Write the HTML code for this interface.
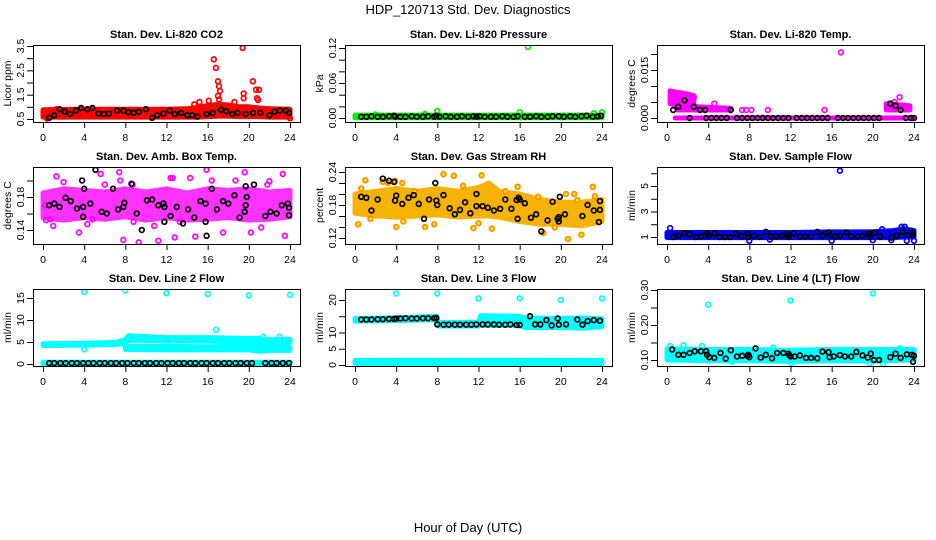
<!DOCTYPE html>
<html><head><meta charset="utf-8">
<style>
html,body{margin:0;padding:0;background:#fff;}
svg{display:block;font-family:"Liberation Sans",Arial,sans-serif;}
</style></head>
<body>
<svg id="chart" width="936" height="540" viewBox="0 0 936 540" xmlns="http://www.w3.org/2000/svg">
<rect width="936" height="540" fill="#fff"/>
<text x="468" y="14" font-size="13" text-anchor="middle">HDP_120713  Std. Dev. Diagnostics</text>
<text x="468" y="532" font-size="13" text-anchor="middle">Hour of Day (UTC)</text>
</svg>
<script>
// ---- shared x ticks ----
const hourTicks = [0,4,8,12,16,20,24];

// ---- P1 CO2 ----
const co2BandX = [0,4,8,12,14,15,16,17,18,19,20,21,22,24];
const co2BandLo = [0.58,0.58,0.58,0.58,0.58,0.58,0.6,0.62,0.62,0.6,0.6,0.6,0.58,0.58];
const co2BandHi = [0.88,0.9,0.9,0.9,0.92,0.98,1.05,1.1,1.08,1.0,1.0,0.95,0.92,0.9];
const co2RedX = [16.6,16.8,17.0,17.1,17.2,17.0,17.1,15.2,16.1,19.4,19.5,19.5,20.4,20.7,20.8,20.9,21.0,14.7,24,1.3,0.4,18.6];
const co2RedY = [2.95,2.6,2.05,1.85,1.65,1.45,1.3,1.2,1.25,3.42,1.55,1.35,2.05,1.7,1.35,1.28,1.7,1.1,0.53,0.9,0.52,1.2];
const co2BlkX = [0.6,1.1,1.6,2.1,2.6,3.2,3.7,4.3,4.8,5.4,5.9,6.4,7.2,7.8,8.3,8.8,9.3,10.0,10.6,11.1,11.7,12.3,12.8,13.4,14.0,14.5,15.0,15.9,16.5,17.3,17.8,18.4,18.9,19.7,20.4,21.1,22.0,22.5,23.0,23.6,23.9];
const co2BlkY = [0.55,0.65,0.9,0.8,0.7,0.85,0.95,0.9,0.95,0.72,0.7,0.72,0.85,0.85,0.78,0.75,0.8,0.9,0.55,0.65,0.72,0.85,0.7,0.75,0.65,0.65,0.6,0.7,0.75,0.88,0.82,0.7,0.75,0.7,0.75,0.75,0.65,0.8,0.85,0.85,0.75];

// ---- P2 Pressure ----
const presBandX = [0,12,24];
const presBandLo = [0.0005,0.0005,0.0005];
const presBandHi = [0.005,0.005,0.005];
const presGrnX = [16.8,8.0,16.0,24,23.2,6.8,2.0];
const presGrnY = [0.122,0.012,0.010,0.010,0.008,0.007,0.006];
const presBlkX = [0.6,1.1,1.6,2.2,2.7,3.3,3.8,3.9,4.4,4.9,5.5,6.0,6.6,7.1,7.7,7.9,8.2,8.8,9.3,9.9,10.4,11.0,11.5,11.8,12.1,12.6,13.2,13.7,14.3,14.8,15.4,15.8,16.5,17.0,17.6,18.1,18.7,19.2,19.8,20.3,20.9,21.4,22.0,22.5,23.1,23.6,23.9];
const presBlkY = [0.002,0.002,0.003,0.002,0.002,0.003,0.004,0.002,0.002,0.002,0.003,0.002,0.002,0.003,0.002,0.004,0.002,0.003,0.002,0.002,0.003,0.002,0.003,0.002,0.003,0.002,0.002,0.002,0.003,0.002,0.002,0.003,0.002,0.002,0.003,0.002,0.002,0.003,0.003,0.002,0.003,0.002,0.003,0.004,0.002,0.003,0.004];

// ---- P3 Li-820 Temp ----
const tmpBaseX = [0.8,24];
const tmpBaseLo = [0,0];
const tmpBaseHi = [0,0];
const tmpBand1X = [0.3,1.0,2.0,2.6];
const tmpBand1Lo = [0.0045,0.004,0.004,0.0045];
const tmpBand1Hi = [0.0085,0.008,0.0075,0.007];
const tmpBand2X = [1.0,3.0,6.2];
const tmpBand2Lo = [0.0025,0.0025,0.0025];
const tmpBand2Hi = [0.004,0.0035,0.003];
const tmpBand3X = [21.3,22.5,23.6];
const tmpBand3Lo = [0.0025,0.0025,0.0025];
const tmpBand3Hi = [0.0045,0.0042,0.0038];
const tmpMagX = [16.9,22.6,22.1,4.6,15.3,9.8,7.3,7.7,8.2,2.6];
const tmpMagY = [0.0205,0.0065,0.005,0.0045,0.0025,0.0025,0.0025,0.0025,0.0025,0.0065];
const tmpBlkX = [0.6,1.1,1.7,2.6,3.2,3.7,6.2,21.7,22.2,22.7,2.2,3.8,4.3,4.8,5.3,5.8,6.8,7.3,7.8,8.3,8.8,9.3,9.8,10.3,10.8,11.3,11.8,12.6,13.1,13.6,14.1,14.6,15.1,15.6,16.6,17.1,17.6,18.1,18.6,19.1,19.6,20.1,20.6,23.2,23.7,24];
const tmpBlkY = [0.0025,0.0035,0.0055,0.0035,0.0025,0.0025,0.0025,0.0045,0.0038,0.0025,0,0,0,0,0,0,0,0,0,0,0,0,0,0,0,0,0,0,0,0,0,0,0,0,0,0,0,0,0,0,0,0,0,0,0,0];

// ---- P4 Amb Box Temp ----
const boxBandX = [0,2,4,6,8,10,12,14,16,18,20,22,24];
const boxBandLo = [0.155,0.152,0.155,0.153,0.156,0.152,0.155,0.152,0.153,0.155,0.152,0.153,0.156];
const boxBandHi = [0.185,0.19,0.188,0.186,0.19,0.186,0.19,0.185,0.19,0.188,0.19,0.186,0.188];
const boxMagX = [1.3,5.6,7.4,7.5,8.7,12.4,12.6,14.3,15.9,19.6,23.3,22.0,7.8,9.3,11.2,12.8,14.8,23.5,3.5,0.3,0.7,4.8,8.8,17.5,20.2,21.2,10.8,18.7,2.0,16.4,0.2,6.0,13.3,21.8,1.0,4.3];
const boxMagY = [0.205,0.208,0.21,0.2,0.195,0.203,0.203,0.203,0.213,0.21,0.208,0.199,0.128,0.125,0.127,0.131,0.132,0.133,0.137,0.152,0.153,0.153,0.15,0.137,0.137,0.143,0.145,0.2,0.198,0.2,0.17,0.195,0.15,0.195,0.145,0.147];
const boxBlkX = [0.6,1.1,1.6,2.2,2.7,3.3,3.8,3.9,3.9,4.0,4.6,5.1,5.7,6.2,6.8,7.3,7.8,7.9,8.6,9.1,9.6,10.1,10.6,11.2,11.7,11.8,11.8,12.4,13.0,13.6,14.1,14.7,15.3,15.8,15.8,15.9,16.4,16.9,17.5,18.0,18.6,19.1,19.6,19.7,19.7,19.8,20.5,21.6,22.1,22.7,23.2,23.8,23.9,23.9];
const boxBlkY = [0.17,0.172,0.168,0.179,0.175,0.166,0.2,0.156,0.168,0.19,0.172,0.213,0.162,0.16,0.19,0.165,0.168,0.173,0.196,0.16,0.14,0.176,0.177,0.17,0.172,0.168,0.15,0.157,0.168,0.148,0.165,0.155,0.175,0.172,0.15,0.133,0.19,0.165,0.175,0.172,0.182,0.155,0.162,0.17,0.193,0.18,0.195,0.157,0.162,0.16,0.17,0.172,0.158,0.167];

// ---- P5 Gas Stream RH ----
const rhBandX = [0,2,4,6,8,10,12,13,14,16,18,20,22,24];
const rhBandLo = [0.165,0.16,0.158,0.16,0.162,0.158,0.16,0.16,0.158,0.15,0.145,0.145,0.142,0.15];
const rhBandHi = [0.2,0.205,0.21,0.205,0.21,0.205,0.212,0.22,0.205,0.2,0.19,0.185,0.185,0.19];
const rhOrgX = [0.3,0.6,1.0,2.7,3.2,3.9,4.6,4.0,4.7,6.8,7.7,8.6,9.6,11.5,12.0,12.3,13.3,15.8,18.3,19.4,20.5,21.3,21.6,23.1,23.3,20.7,22.0,5.8,14.6,1.5,10.5,17.8];
const rhOrgY = [0.145,0.21,0.225,0.222,0.22,0.224,0.22,0.14,0.15,0.14,0.145,0.236,0.233,0.138,0.147,0.234,0.137,0.213,0.129,0.139,0.2,0.2,0.189,0.213,0.196,0.118,0.126,0.205,0.205,0.155,0.215,0.195];
const rhBlkX = [0.6,1.1,1.6,2.2,2.7,3.3,3.8,3.9,4.0,4.6,5.2,5.7,6.2,6.7,7.2,7.8,7.9,8.0,8.6,9.2,9.7,10.2,10.7,11.2,11.8,11.8,12.4,12.9,13.5,14.1,14.6,15.2,15.7,15.8,15.9,16.0,16.5,17.1,17.6,18.1,18.7,19.2,19.7,19.8,19.8,19.9,20.4,22.1,22.6,23.2,23.7,23.8,23.8];
const rhBlkY = [0.195,0.193,0.17,0.19,0.228,0.224,0.222,0.188,0.197,0.182,0.193,0.198,0.182,0.155,0.19,0.22,0.188,0.18,0.198,0.174,0.163,0.171,0.185,0.165,0.2,0.178,0.178,0.175,0.17,0.173,0.19,0.173,0.189,0.155,0.193,0.19,0.183,0.157,0.163,0.132,0.152,0.186,0.155,0.158,0.15,0.195,0.163,0.16,0.18,0.17,0.149,0.171,0.187];

// ---- P6 Sample Flow ----
const sfBandX = [0,4,8,12,16,20,22,23,24];
const sfBandLo = [0.95,0.95,0.95,0.95,0.95,0.95,0.95,1.0,1.0];
const sfBandHi = [1.35,1.35,1.35,1.35,1.4,1.4,1.5,1.65,1.5];
const sfBluX = [16.8,0.3,8.0,10.0,16.0,20.0,21.8,23.1,22.8,23.3,24,20.9];
const sfBluY = [6.2,1.7,0.7,0.8,0.7,0.75,0.75,1.8,1.8,0.7,0.7,1.6];
const sfBlkX = [0.6,1.1,1.7,2.2,2.8,3.3,3.9,4.0,4.6,5.1,5.6,6.1,6.7,7.2,7.8,7.9,8.4,9.0,9.6,10.1,10.6,11.2,11.7,11.8,12.3,12.9,13.4,14.0,14.6,15.1,15.7,15.8,16.3,16.8,17.4,17.9,18.5,19.0,19.6,19.7,20.2,20.7,21.8,22.3,22.9,23.4,23.8,23.9];
const sfBlkY = [1.0,1.1,1.3,1.2,1.0,1.05,1.3,1.1,1.3,1.0,1.0,1.0,1.25,1.05,1.25,1.0,1.1,1.0,1.4,1.05,1.05,1.1,1.2,1.0,1.3,1.05,1.05,1.05,1.4,1.1,1.35,1.1,1.05,1.1,1.35,1.05,1.05,1.1,1.25,1.05,1.35,1.05,0.95,1.1,1.4,1.15,1.35,1.15];

// ---- P7 Line 2 Flow ----
const l2BaseX = [0,24];
const l2BaseLo = [0,0];
const l2BaseHi = [0.4,0.4];
const l2UpX = [0,4,7,8,8.3,12,16,20,21,22,24];
const l2UpLo = [4.2,4.3,4.4,4.8,5.4,5.3,5.2,5.0,4.5,4.8,5.0];
const l2UpHi = [4.6,4.7,4.9,5.5,6.4,6.0,6.0,5.8,5.8,5.5,5.6];
const l2LoX = [8,12,16,20,21,22,24];
const l2LoLo = [3.3,3.2,3.2,3.2,2.9,3.1,3.1];
const l2LoHi = [4.0,4.0,3.9,4.0,4.6,4.2,3.8];
const l2CyX = [4,8,12,16,20,24,16.8,4,12,21.4,23.0,23.6,17.6,20.6];
const l2CyY = [16.4,16.7,16.1,15.9,15.6,15.7,7.8,3.3,4.8,6.2,6.2,5.5,4.6,4.2];
const l2BlkX = [0.6,1.1,1.7,2.2,2.8,3.3,3.9,4.4,4.9,5.5,6.0,6.6,7.1,7.7,8.2,8.8,9.3,9.9,10.4,11.0,11.5,12.1,12.6,13.2,13.7,14.3,14.8,15.4,15.9,16.5,17.0,17.6,18.1,18.7,19.2,19.8,20.3,21.6,22.2,22.7,23.3,23.9];
const l2BlkY = [0.2,0.2,0.2,0.2,0.2,0.2,0.2,0.2,0.2,0.2,0.2,0.2,0.2,0.2,0.2,0.2,0.2,0.2,0.2,0.2,0.2,0.2,0.2,0.2,0.2,0.2,0.2,0.2,0.2,0.2,0.2,0.2,0.2,0.2,0.2,0.2,0.2,0.2,0.2,0.2,0.2,0.2];

// ---- P8 Line 3 Flow ----
const l3BaseX = [0,24];
const l3BaseLo = [0.5,0.5];
const l3BaseHi = [1.4,1.4];
const l3BandX = [0,4,7.9,8.1,12,12.2,16,16.5,20,22,24];
const l3BandLo = [13.5,13.7,13.9,12.0,12.0,12.2,12.2,11.5,11.5,11.3,11.8];
const l3BandHi = [14.3,14.5,15.0,13.0,13.2,15.2,15.0,14.5,14.3,14.5,14.2];
const l3CyX = [4,8,12,16,20,24,18.8];
const l3CyY = [22,22,20.5,20.5,20,20.5,0.2];
const l3BlkX = [0.6,1.1,1.6,2.2,2.7,3.3,3.8,4.0,4.4,4.9,5.5,6.0,6.6,7.1,7.7,7.9,8.0,8.6,9.1,9.7,10.2,10.8,11.3,11.8,12.4,12.9,13.5,14.0,14.6,15.1,15.7,16.0,17.0,17.5,18.0,18.6,19.1,19.7,19.8,20.5,21.6,22.1,22.6,23.2,23.8];
const l3BlkY = [14,14,14,14.1,14.1,14.2,14.2,14.3,14.3,14.4,14.3,14.3,14.4,14.4,14.4,14.5,12.5,12.4,12.4,12.4,12.4,12.4,12.4,12.5,12.5,12.5,12.5,12.4,12.4,12.5,12.3,12.3,15.0,12.5,12.5,13.8,12.2,14.3,12.4,12.5,14.0,12.4,13.5,13.8,13.6];

// ---- P9 Line 4 Flow ----
const l4BandX = [0,4,8,12,16,20,24];
const l4BandLo = [0.1,0.098,0.098,0.096,0.098,0.097,0.1];
const l4BandHi = [0.132,0.13,0.13,0.128,0.13,0.13,0.13];
const l4CyX = [4,12,20,1.6,0.3,3.4,22.6,19.7,12.1,21.0,6.3,10.3];
const l4CyY = [0.258,0.27,0.29,0.142,0.14,0.14,0.133,0.09,0.09,0.088,0.095,0.135];
const l4BlkX = [0.5,1.1,1.6,2.2,2.7,3.3,3.8,3.9,4.1,4.6,5.2,5.7,6.2,6.8,7.3,7.8,7.9,8.0,8.6,9.1,9.6,10.2,10.7,11.3,11.8,11.9,12.0,12.4,12.9,13.5,14.0,14.6,15.1,15.7,15.8,16.2,16.8,17.3,17.9,18.4,19.0,19.5,19.8,20.1,20.6,21.7,22.2,22.7,23.3,23.8,23.9,24.0];
const l4BlkY = [0.13,0.115,0.115,0.12,0.125,0.125,0.125,0.115,0.108,0.106,0.12,0.104,0.128,0.11,0.112,0.112,0.115,0.108,0.133,0.107,0.115,0.105,0.12,0.12,0.118,0.113,0.11,0.11,0.113,0.106,0.106,0.105,0.124,0.122,0.108,0.11,0.114,0.11,0.11,0.123,0.113,0.107,0.118,0.1,0.1,0.108,0.118,0.106,0.116,0.115,0.095,0.112];

const NS = "http://www.w3.org/2000/svg";
const svg = document.getElementById('chart');
const colLeft = [33,345,657];
const colX0 = [43,355,667];
const rowTop = [45,167,289];
const boxW = 267, boxH = 77, hourW = 247/24;

function mk(tag, attrs, parent){
  const e = document.createElementNS(NS, tag);
  for (const k in attrs) e.setAttribute(k, attrs[k]);
  (parent||svg).appendChild(e);
  return e;
}

function panel(p){
  const g = mk('g', {});
  
  
  const L = colLeft[p.col], T = rowTop[p.row], B = T + boxH;
  const xs = h => colX0[p.col] + h * hourW;
  const ys = v => p.py0 + (v - p.v0) * (p.py1 - p.py0) / (p.v1 - p.v0);
  // title
  const t = mk('text', {x: L + boxW/2, y: T - 7, 'font-size': 11, 'font-weight': 'bold', 'text-anchor': 'middle'}, g);
  t.textContent = p.title;
  
  
  // clip
  const cid = 'c' + p.row + p.col;
  const cp = mk('clipPath', {id: cid}, g);
  mk('rect', {x: L, y: T, width: boxW, height: boxH}, cp);
  const data = mk('g', {'clip-path': 'url(#' + cid + ')'}, g);
  // bands
  (p.bands || []).forEach(b => {
    const pts = [];
    for (let i = 0; i < b.x.length; i++) pts.push(xs(b.x[i]).toFixed(1) + ',' + ys(b.lo[i]).toFixed(1));
    for (let i = b.x.length - 1; i >= 0; i--) pts.push(xs(b.x[i]).toFixed(1) + ',' + ys(b.hi[i]).toFixed(1));
    const poly = mk('polygon', {points: pts.join(' '), fill: b.fill, stroke: b.fill, 'stroke-width': 5, 'stroke-linejoin': 'round', opacity: b.op || 1}, data);
    
    
  });
  // points
  (p.pts || []).forEach(s => {
    for (let i = 0; i < s.x.length; i++) {
      const c = mk('circle', {cx: xs(s.x[i]).toFixed(1), cy: ys(s.y[i]).toFixed(1), r: 2.4, fill: s.fill || 'none', stroke: s.color, 'stroke-width': 1.7}, data);
      
      
    }
  });
  // box
  const box = mk('rect', {x: L + 0.5, y: T + 0.5, width: boxW, height: boxH, fill: 'none', stroke: '#000', 'stroke-width': 1}, g);
  
  
  // x axis
  const xa = mk('g', {}, g);
  
  
  mk('line', {x1: xs(hourTicks[0]), x2: xs(hourTicks[hourTicks.length-1]), y1: B + 0.5, y2: B + 0.5, stroke: '#000'}, xa);
  hourTicks.forEach(h => {
    mk('line', {x1: xs(h) + 0.5, x2: xs(h) + 0.5, y1: B, y2: B + 6, stroke: '#000'}, xa);
    const tl = mk('text', {x: xs(h), y: B + 19, 'font-size': 10.5, 'text-anchor': 'middle'}, xa);
    tl.textContent = h;
    
    
  });
  // y axis
  const ya = mk('g', {}, g);
  
  
  mk('line', {x1: L + 0.5, x2: L + 0.5, y1: ys(p.ticks[0]), y2: ys(p.ticks[p.ticks.length-1]), stroke: '#000'}, ya);
  p.ticks.forEach((v, i) => {
    const y = ys(v);
    mk('line', {x1: L - 6, x2: L, y1: y + 0.5, y2: y + 0.5, stroke: '#000'}, ya);
    if (p.labels[i] !== '') {
      const tl = mk('text', {x: 0, y: 0, 'font-size': 10.5, 'text-anchor': 'middle', transform: 'translate(' + (L - 9) + ',' + y + ') rotate(-90)'}, ya);
      tl.textContent = p.labels[i];
      
      
    }
  });
  const yt = mk('text', {x: 0, y: 0, 'font-size': 10.5, 'text-anchor': 'middle', transform: 'translate(' + (L - 22) + ',' + (T + boxH/2) + ') rotate(-90)'}, g);
  yt.textContent = p.ylab;
  
  
}

const RED='#ff0000', GRN='#00ee00', MAG='#ff00ff', BLU='#0000ff', CYN='#00ffff', BLK='#000000';

panel({name:'panel-co2', title:'Stan. Dev. Li-820 CO2', ylab:'Licor ppm', row:0, col:0, v0:0.5, py0:119, v1:3.5, py1:46,
  ticks:[0.5,1,1.5,2,2.5,3,3.5], labels:['0.5','','1.5','','2.5','','3.5'],
  bands:[{x:co2BandX, lo:co2BandLo, hi:co2BandHi, fill:RED}],
  pts:[{x:co2RedX, y:co2RedY, color:RED, label:'co2-point'},{x:co2BlkX, y:co2BlkY, color:BLK, label:'co2-black-point'}]});

panel({name:'panel-pressure', title:'Stan. Dev. Li-820 Pressure', ylab:'kPa', row:0, col:1, v0:0, py0:118, v1:0.12, py1:48,
  ticks:[0,0.02,0.04,0.06,0.08,0.10,0.12], labels:['0.00','','','0.06','','','0.12'],
  bands:[{x:presBandX, lo:presBandLo, hi:presBandHi, fill:GRN}],
  pts:[{x:presGrnX, y:presGrnY, color:GRN, label:'pressure-point'},{x:presBlkX, y:presBlkY, color:BLK, label:'pressure-black-point'}]});

panel({name:'panel-temp', title:'Stan. Dev. Li-820 Temp.', ylab:'degrees C', row:0, col:2, v0:0, py0:118, v1:0.015, py1:70,
  ticks:[0,0.005,0.01,0.015,0.02], labels:['0.000','','','0.015',''],
  bands:[{x:tmpBaseX, lo:tmpBaseLo, hi:tmpBaseHi, fill:MAG},{x:tmpBand1X, lo:tmpBand1Lo, hi:tmpBand1Hi, fill:MAG},{x:tmpBand2X, lo:tmpBand2Lo, hi:tmpBand2Hi, fill:MAG},{x:tmpBand3X, lo:tmpBand3Lo, hi:tmpBand3Hi, fill:MAG}],
  pts:[{x:tmpMagX, y:tmpMagY, color:MAG, label:'temp-point'},{x:tmpBlkX, y:tmpBlkY, color:BLK, label:'temp-black-point'}]});

panel({name:'panel-box-temp', title:'Stan. Dev. Amb. Box Temp.', ylab:'degrees C', row:1, col:0, v0:0.14, py0:230, v1:0.18, py1:197,
  ticks:[0.14,0.16,0.18,0.20], labels:['0.14','','0.18',''],
  bands:[{x:boxBandX, lo:boxBandLo, hi:boxBandHi, fill:MAG, op:0.8}],
  pts:[{x:boxMagX, y:boxMagY, color:MAG, label:'box-temp-point'},{x:boxBlkX, y:boxBlkY, color:BLK, label:'box-temp-black-point'}]});

panel({name:'panel-rh', title:'Stan. Dev. Gas Stream RH', ylab:'percent', row:1, col:1, v0:0.12, py0:238, v1:0.24, py1:172,
  ticks:[0.12,0.14,0.16,0.18,0.20,0.22,0.24], labels:['0.12','','','0.18','','','0.24'],
  bands:[{x:rhBandX, lo:rhBandLo, hi:rhBandHi, fill:'#f5b300'}],
  pts:[{x:rhOrgX, y:rhOrgY, color:'#ff8c00', fill:'#ffee00', label:'rh-point'},{x:rhBlkX, y:rhBlkY, color:BLK, label:'rh-black-point'}]});

panel({name:'panel-sample-flow', title:'Stan. Dev. Sample Flow', ylab:'ml/min', row:1, col:2, v0:1, py0:237, v1:5, py1:186,
  ticks:[1,2,3,4,5,6], labels:['1','','3','','5',''],
  bands:[{x:sfBandX, lo:sfBandLo, hi:sfBandHi, fill:BLU}],
  pts:[{x:sfBluX, y:sfBluY, color:BLU, label:'sample-flow-point'},{x:sfBlkX, y:sfBlkY, color:BLK, label:'sample-flow-black-point'}]});

panel({name:'panel-line2', title:'Stan. Dev. Line 2 Flow', ylab:'ml/min', row:2, col:0, v0:0, py0:364, v1:15, py1:298,
  ticks:[0,5,10,15], labels:['0','5','10','15'],
  bands:[{x:l2BaseX, lo:l2BaseLo, hi:l2BaseHi, fill:CYN},{x:l2UpX, lo:l2UpLo, hi:l2UpHi, fill:CYN},{x:l2LoX, lo:l2LoLo, hi:l2LoHi, fill:CYN}],
  pts:[{x:l2CyX, y:l2CyY, color:CYN, label:'line2-point'},{x:l2BlkX, y:l2BlkY, color:BLK, label:'line2-black-point'}]});

panel({name:'panel-line3', title:'Stan. Dev. Line 3 Flow', ylab:'ml/min', row:2, col:1, v0:0, py0:365, v1:20, py1:300,
  ticks:[0,5,10,15,20], labels:['0','5','10','','20'],
  bands:[{x:l3BaseX, lo:l3BaseLo, hi:l3BaseHi, fill:CYN},{x:l3BandX, lo:l3BandLo, hi:l3BandHi, fill:CYN}],
  pts:[{x:l3CyX, y:l3CyY, color:CYN, label:'line3-point'},{x:l3BlkX, y:l3BlkY, color:BLK, label:'line3-black-point'}]});

panel({name:'panel-line4', title:'Stan. Dev. Line 4 (LT) Flow', ylab:'ml/min', row:2, col:2, v0:0.10, py0:360, v1:0.30, py1:290,
  ticks:[0.10,0.15,0.20,0.25,0.30], labels:['0.10','','0.20','','0.30'],
  bands:[{x:l4BandX, lo:l4BandLo, hi:l4BandHi, fill:CYN}],
  pts:[{x:l4CyX, y:l4CyY, color:CYN, label:'line4-point'},{x:l4BlkX, y:l4BlkY, color:BLK, label:'line4-black-point'}]});
</script>
</body></html>
